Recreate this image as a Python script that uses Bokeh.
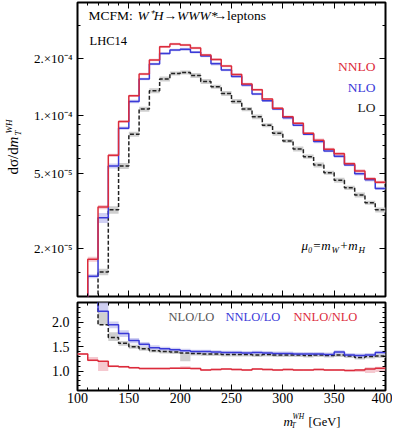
import numpy as np
from bokeh.plotting import figure
from bokeh.layouts import column, row
from bokeh.models import FixedTicker, LinearAxis, Label, Range1d, CustomLabelingPolicy
from bokeh.embed import file_html
from bokeh.resources import INLINE

# ---------------- data ----------------
edges = list(range(100, 401, 10))          # bin edges in GeV (30 bins)

nnlo = [9.0e-6, 1.76e-5, 3.31e-5, 6.20e-5, 9.33e-5, 1.275e-4, 1.66e-4, 1.967e-4, 2.312e-4, 2.389e-4,
        2.360e-4, 2.279e-4, 2.091e-4, 1.982e-4, 1.829e-4, 1.652e-4, 1.470e-4, 1.371e-4, 1.225e-4, 1.098e-4,
        9.88e-5, 9.15e-5, 8.10e-5, 7.44e-5, 6.67e-5, 6.32e-5, 5.60e-5, 5.13e-5, 4.67e-5, 4.47e-5]
nlo = [6.7e-6, 1.431e-5, 2.905e-5, 5.45e-5, 8.61e-5, 1.190e-4, 1.562e-4, 1.874e-4, 2.132e-4, 2.222e-4,
       2.239e-4, 2.163e-4, 2.065e-4, 1.881e-4, 1.743e-4, 1.612e-4, 1.452e-4, 1.302e-4, 1.200e-4, 1.085e-4,
       9.76e-5, 8.93e-5, 8.00e-5, 7.32e-5, 6.53e-5, 6.13e-5, 5.51e-5, 4.96e-5, 4.61e-5, 4.15e-5]
lo = [1.0e-6, 1.0e-6, 1.508e-5, 3.20e-5, 5.45e-5, 8.00e-5, 1.085e-4, 1.355e-4, 1.562e-4, 1.672e-4,
      1.692e-4, 1.632e-4, 1.517e-4, 1.423e-4, 1.311e-4, 1.190e-4, 1.085e-4, 9.88e-5, 8.93e-5, 8.10e-5,
      7.38e-5, 6.70e-5, 6.10e-5, 5.51e-5, 5.02e-5, 4.58e-5, 4.18e-5, 3.83e-5, 3.49e-5, 3.20e-5]

# relative scale-uncertainty half widths
nnlo_rel = [0.02, 0.03, 0.025, 0.02, 0.015, 0.015, 0.015, 0.015, 0.015, 0.015, 0.015, 0.015, 0.015, 0.015, 0.015,
            0.015, 0.015, 0.015, 0.015, 0.015, 0.015, 0.015, 0.015, 0.02, 0.02, 0.02, 0.02, 0.02, 0.02, 0.02]
nlo_rel = [0.02, 0.025, 0.06, 0.03, 0.02, 0.02, 0.015, 0.015, 0.015, 0.015, 0.02, 0.015, 0.015, 0.02, 0.015,
           0.015, 0.02, 0.015, 0.015, 0.015, 0.02, 0.015, 0.015, 0.02, 0.015, 0.02, 0.015, 0.02, 0.02, 0.02]
lo_rel = [0.0, 0.0, 0.04, 0.045, 0.035, 0.03, 0.03, 0.03, 0.03, 0.025, 0.025, 0.03, 0.03, 0.025, 0.03,
          0.03, 0.025, 0.03, 0.025, 0.03, 0.025, 0.03, 0.025, 0.03, 0.025, 0.03, 0.025, 0.03, 0.025, 0.03]

# ratios (1000 = LO vanishes, off scale)
r_red = [1.35, 1.22, 1.20, 1.10, 1.09, 1.07, 1.05, 1.05, 1.05, 1.06, 1.06, 1.05, 1.02, 1.03, 1.04,
         1.03, 1.02, 1.04, 1.03, 1.02, 1.03, 1.02, 1.02, 1.03, 1.02, 1.02, 1.01, 1.02, 1.04, 1.06]
r_red_lo = [1.33, 1.20, 1.00, 1.08, 1.07, 1.05, 1.03, 1.03, 1.03, 1.04, 1.04, 1.03, 1.00, 1.01, 1.02,
            1.01, 1.00, 1.02, 1.01, 1.00, 1.01, 1.00, 1.00, 1.01, 1.00, 1.00, 0.99, 0.98, 0.96, 0.98]
r_red_hi = [1.37, 1.29, 1.20, 1.12, 1.11, 1.09, 1.07, 1.07, 1.07, 1.08, 1.10, 1.07, 1.04, 1.05, 1.06,
            1.05, 1.04, 1.06, 1.05, 1.04, 1.05, 1.04, 1.04, 1.05, 1.04, 1.04, 1.03, 1.04, 1.08, 1.09]
r_blue = [1000, 1000, 2.23, 1.95, 1.77, 1.63, 1.55, 1.48, 1.46, 1.44, 1.42, 1.40, 1.40, 1.39, 1.38,
          1.38, 1.37, 1.38, 1.37, 1.36, 1.36, 1.35, 1.35, 1.35, 1.34, 1.39, 1.33, 1.32, 1.33, 1.38]
r_blue_lo = [1000, 1000, 2.20, 1.88, 1.70, 1.57, 1.50, 1.44, 1.42, 1.40, 1.38, 1.36, 1.36, 1.35, 1.34,
             1.34, 1.33, 1.34, 1.33, 1.32, 1.32, 1.31, 1.31, 1.31, 1.30, 1.35, 1.29, 1.28, 1.29, 1.34]
r_blue_hi = [1000, 1000, 2.45, 2.02, 1.84, 1.68, 1.60, 1.53, 1.50, 1.48, 1.46, 1.44, 1.44, 1.43, 1.42,
             1.42, 1.41, 1.42, 1.41, 1.40, 1.40, 1.39, 1.39, 1.39, 1.38, 1.43, 1.37, 1.36, 1.37, 1.42]
r_gray = [1000, 1000, 1.95, 1.69, 1.57, 1.50, 1.46, 1.42, 1.40, 1.39, 1.37, 1.36, 1.35, 1.35, 1.34,
          1.34, 1.34, 1.33, 1.34, 1.33, 1.33, 1.33, 1.32, 1.33, 1.32, 1.33, 1.31, 1.28, 1.30, 1.31]
r_gray_lo = [1000, 1000, 1.95, 1.62, 1.52, 1.46, 1.42, 1.38, 1.36, 1.35, 1.20, 1.32, 1.31, 1.31, 1.30,
             1.30, 1.30, 1.29, 1.30, 1.29, 1.29, 1.29, 1.28, 1.29, 1.28, 1.29, 1.27, 1.24, 1.26, 1.27]
r_gray_hi = [1000, 1000, 2.21, 1.80, 1.62, 1.54, 1.50, 1.46, 1.44, 1.43, 1.37, 1.40, 1.39, 1.39, 1.38,
             1.38, 1.38, 1.37, 1.38, 1.37, 1.37, 1.37, 1.36, 1.37, 1.36, 1.37, 1.35, 1.32, 1.34, 1.35]

x_major = [100, 150, 200, 250, 300, 350, 400]
x_minor = list(range(100, 401, 10))
main_major = [2e-5, 5e-5, 1e-4, 2e-4]
main_labels = {2e-5: "2.×10⁻⁵", 5e-5: "5.×10⁻⁵", 1e-4: "1.×10⁻⁴", 2e-4: "2.×10⁻⁴"}
main_minor = [1.5e-5, 3e-5, 4e-5, 6e-5, 7e-5, 8e-5, 9e-5, 3e-4]
ratio_major = [1.0, 1.5, 2.0]
ratio_labels = {1.0: "1.0", 1.5: "1.5", 2.0: "2.0"}
ratio_minor = [0.7, 0.8, 0.9, 1.1, 1.2, 1.3, 1.4, 1.6, 1.7, 1.8, 1.9, 2.1, 2.2, 2.3]

# ---------------- style ----------------
FONT = "Liberation Serif"
RED = "#dc2b3b"
BLUE = "#3a3ad8"
RED_BAND = "#f3bcc4"
BLUE_BAND = "#c4c4f0"
GRAY_BAND = "#cfcfcf"

left_e = np.array(edges[:-1], dtype=float)
right_e = np.array(edges[1:], dtype=float)
xs = np.array(edges, dtype=float)


def stepy(v):
    v = list(v)
    return v + [v[-1]]


def style_axis(ax, show_labels, font_size="14px", standoff=5):
    ax.major_tick_in = 6
    ax.major_tick_out = 0
    ax.minor_tick_in = 3
    ax.minor_tick_out = 0
    ax.axis_line_color = None
    ax.major_tick_line_color = "black"
    ax.minor_tick_line_color = "black"
    ax.major_label_text_font = FONT
    ax.major_label_text_color = "black"
    if show_labels:
        ax.major_label_text_font_size = font_size
        ax.major_label_standoff = standoff
    else:
        ax.major_label_text_font_size = "0px"
        ax.major_label_policy = CustomLabelingPolicy(code="return new Set()")
        ax.major_label_standoff = 0


def lab(fig, x, y, text, size="13px", color="black", style="normal", align="left",
        baseline="middle", angle=0.0):
    fig.add_layout(Label(x=x, y=y, x_units="screen", y_units="screen", text=text,
                         text_font=FONT, text_font_size=size, text_color=color,
                         text_font_style=style, text_align=align, text_baseline=baseline,
                         angle=angle))


def text_strip(w, h):
    f = figure(width=w, height=h, output_backend="svg", toolbar_location=None,
               x_range=Range1d(0, w), y_range=Range1d(0, h),
               x_axis_location=None, y_axis_location=None,
               min_border=0, min_border_left=0, min_border_right=0,
               min_border_top=0, min_border_bottom=0)
    f.grid.visible = False
    f.outline_line_color = None
    return f


# ---------------- main panel ----------------
p1 = figure(width=370, height=299, y_axis_type="log", output_backend="svg",
            toolbar_location=None, x_range=Range1d(100, 400), y_range=Range1d(1.12e-5, 3.95e-4),
            min_border_left=55, min_border_right=7, min_border_top=2, min_border_bottom=3)
p1.grid.visible = False
p1.outline_line_color = "black"
p1.outline_line_width = 2

nn = np.array(nnlo); nl = np.array(nlo); l0 = np.array(lo)
p1.quad(left=left_e, right=right_e, bottom=l0 * (1 - np.array(lo_rel)), top=l0 * (1 + np.array(lo_rel)),
        fill_color=GRAY_BAND, line_color=None)
p1.quad(left=left_e, right=right_e, bottom=nl * (1 - np.array(nlo_rel)), top=nl * (1 + np.array(nlo_rel)),
        fill_color=BLUE_BAND, line_color=None, fill_alpha=0.8)
p1.quad(left=left_e, right=right_e, bottom=nn * (1 - np.array(nnlo_rel)), top=nn * (1 + np.array(nnlo_rel)),
        fill_color=RED_BAND, line_color=None, fill_alpha=0.8)
p1.step(xs, stepy(lo), mode="after", line_color="#222222", line_width=1.5, line_dash="4 2")
p1.step(xs, stepy(nlo), mode="after", line_color=BLUE, line_width=1.5)
p1.step(xs, stepy(nnlo), mode="after", line_color=RED, line_width=1.5)

p1.xaxis.ticker = FixedTicker(ticks=x_major, minor_ticks=x_minor)
p1.yaxis.ticker = FixedTicker(ticks=main_major, minor_ticks=main_minor)
p1.yaxis.major_label_overrides = main_labels
style_axis(p1.xaxis[0], False)
style_axis(p1.yaxis[0], True, "13px", 5)
ax_t = LinearAxis(ticker=FixedTicker(ticks=x_major, minor_ticks=x_minor))
style_axis(ax_t, False)
p1.add_layout(ax_t, "above")
ax_r = LinearAxis(ticker=FixedTicker(ticks=main_major, minor_ticks=main_minor))
style_axis(ax_r, False)
p1.add_layout(ax_r, "right")

# texts in main panel (screen units relative to the frame's bottom-left corner)
lab(p1, 11, 281, "MCFM:", "13.5px")
lab(p1, 60, 281, "W⁺H→WWW*", "13.5px", style="italic")
lab(p1, 136, 281, "→leptons", "13.5px")
lab(p1, 12, 256, "LHC14", "12.5px")
lab(p1, 298, 230, "NNLO", "13.5px", RED, align="right")
lab(p1, 298, 209, "NLO", "13.5px", BLUE, align="right")
lab(p1, 298, 189, "LO", "13.5px", "#222222", align="right")
lab(p1, 224, 51, "μ₀=m", "13px", style="italic")
lab(p1, 254, 47, "W", "9px", style="italic")
lab(p1, 262, 51, "+m", "13px", style="italic")
lab(p1, 281, 47, "H", "9px", style="italic")

# y axis label strip (left of main panel)
ylab = text_strip(22, 299)
ANG = np.pi / 2
lab(ylab, 12, 122, "dσ/d", "15px", angle=ANG)
lab(ylab, 12, 149, "m", "15px", style="italic", angle=ANG)
lab(ylab, 17, 161, "T", "9px", style="italic", angle=ANG)
lab(ylab, 8, 163, "WH", "9px", style="italic", angle=ANG)

# ---------------- ratio panel ----------------
p2 = figure(width=392, height=112, output_backend="svg", toolbar_location=None,
            x_range=p1.x_range, y_range=Range1d(0.6, 2.41),
            min_border_left=77, min_border_right=7, min_border_top=3, min_border_bottom=21)
p2.grid.visible = False
p2.outline_line_color = "black"
p2.outline_line_width = 2

p2.quad(left=left_e, right=right_e, bottom=r_gray_lo, top=r_gray_hi, fill_color=GRAY_BAND, line_color=None)
p2.quad(left=left_e, right=right_e, bottom=r_blue_lo, top=r_blue_hi, fill_color=BLUE_BAND, line_color=None,
        fill_alpha=0.8)
p2.quad(left=left_e, right=right_e, bottom=r_red_lo, top=r_red_hi, fill_color=RED_BAND, line_color=None,
        fill_alpha=0.8)
p2.step(xs, stepy(r_gray), mode="after", line_color="#222222", line_width=1.5, line_dash="4 2")
p2.step(xs, stepy(r_blue), mode="after", line_color=BLUE, line_width=1.5)
p2.step(xs, stepy(r_red), mode="after", line_color=RED, line_width=1.5)

p2.xaxis.ticker = FixedTicker(ticks=x_major, minor_ticks=x_minor)
p2.yaxis.ticker = FixedTicker(ticks=ratio_major, minor_ticks=ratio_minor)
p2.yaxis.major_label_overrides = ratio_labels
style_axis(p2.xaxis[0], True, "14px", 2)
style_axis(p2.yaxis[0], True, "14px", 8)
ax2_t = LinearAxis(ticker=FixedTicker(ticks=x_major, minor_ticks=x_minor))
style_axis(ax2_t, False)
p2.add_layout(ax2_t, "above")
ax2_r = LinearAxis(ticker=FixedTicker(ticks=ratio_major, minor_ticks=ratio_minor))
style_axis(ax2_r, False)
p2.add_layout(ax2_r, "right")

lab(p2, 91, 74, "NLO/LO", "12.5px", "#555555")
lab(p2, 148, 74, "NNLO/LO", "12.5px", BLUE)
lab(p2, 216, 74, "NNLO/NLO", "12.5px", RED)

# x axis label strip (below ratio panel)
xlab = text_strip(392, 19)
lab(xlab, 206, 9, "m", "13px", style="italic")
lab(xlab, 214, 5, "T", "7.5px", style="italic")
lab(xlab, 215, 14, "WH", "7.5px", style="italic")
lab(xlab, 231, 9, "[GeV]", "12.5px")

layout = column(row(ylab, p1), p2, xlab)
open("out.html", "w").write(file_html(layout, INLINE))
